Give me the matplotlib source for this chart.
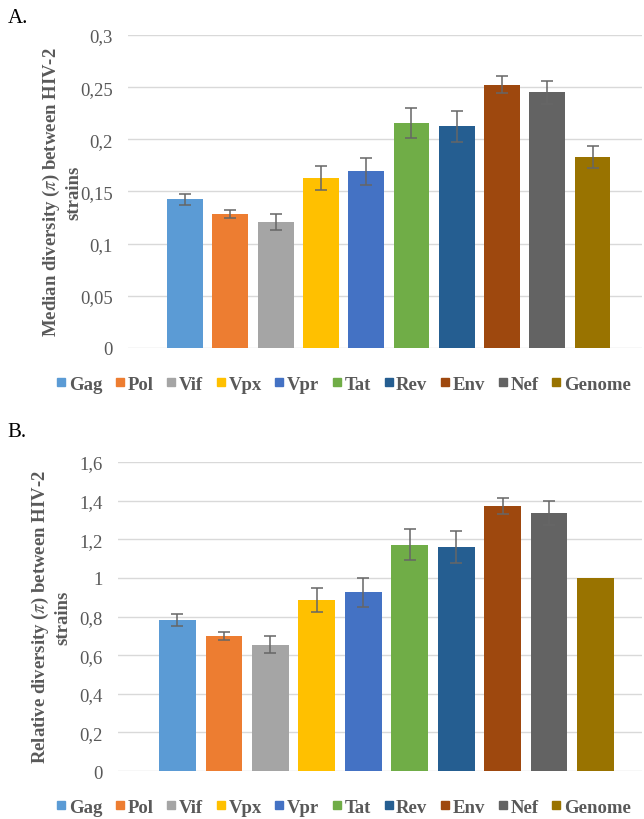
import numpy as np
import matplotlib
matplotlib.use('Agg')
import matplotlib.pyplot as plt
from matplotlib.lines import Line2D

genes=['Gag','Pol','Vif','Vpx','Vpr','Tat','Rev','Env','Nef','Genome']
colors=['#5B9BD5','#ED7D31','#A5A5A5','#FFC000','#4472C4','#70AD47','#255E91','#9E480E','#636363','#997300']

#A: median diversity
medA=[0.1425,0.1285,0.1210,0.1625,0.1695,0.2155,0.2125,0.2525,0.2450,0.1830]
errA=[0.0055,0.0040,0.0075,0.0115,0.0130,0.0145,0.0150,0.0078,0.0110,0.0105]
#B: relative diversity
relB=[0.782,0.700,0.654,0.884,0.925,1.172,1.160,1.373,1.338,1.0]
errB=[0.030,0.020,0.043,0.062,0.075,0.080,0.085,0.041,0.062,0.0]

plt.rcParams['font.family']=['Liberation Serif','DejaVu Serif']
plt.rcParams['mathtext.fontset']='stix'
GRAY='#595959'

def Panel(fig,rect,vals,errs,ymax,step,ticklabels,ylabel,xl,labx):
    ax=fig.add_axes(rect)
    x=np.arange(len(genes))
    ax.bar(x,vals,width=0.79,color=colors,zorder=2)
    e=np.array(errs)
    m=e>0
    ax.errorbar(x[m],np.array(vals)[m],yerr=e[m],fmt='none',ecolor='#666666',
                elinewidth=1.1,capsize=4,capthick=1.1,zorder=3)
    ax.set_ylim(0,ymax)
    ax.set_xlim(xl)
    ticks=np.arange(0,ymax+step/2,step)
    ax.set_yticks(ticks)
    ax.set_yticklabels(ticklabels,fontsize=13.5,color=GRAY)
    ax.set_xticks([])
    ax.tick_params(axis='y',length=0,pad=11)
    ax.grid(axis='y',color='#d9d9d9',linewidth=1,zorder=0)
    for s in ax.spines.values():
        s.set_visible(False)
    ax.set_ylabel(ylabel,fontsize=13.5,fontweight='bold',color=GRAY,linespacing=1.3)
    ax.yaxis.set_label_coords(labx,0.5)
    return ax

def Legend(fig,y):
    handles=[Line2D([],[],marker='s',linestyle='none',markersize=5.5,
                    markerfacecolor=c,markeredgecolor=c) for c in colors]
    fig.legend(handles,genes,loc='center',bbox_to_anchor=(0.533,y),ncol=10,frameon=False,
               handletextpad=0.1,columnspacing=0.65,handlelength=0.6,borderpad=0,
               prop={'family':'Liberation Serif','weight':'bold','size':13.5},labelcolor=GRAY)

def main():
    fig=plt.figure(figsize=(6.44,8.2),dpi=100)
    Panel(fig,[0.1988,0.5744,0.798,0.3817],medA,errA,0.3,0.05,
          ['0','0,05','0,1','0,15','0,2','0,25','0,3'],
          'Median diversity ($\\pi$) between HIV-2\nstrains',(-1.26,10.09),-0.088)
    Panel(fig,[0.1832,0.0585,0.8137,0.3768],relB,errB,1.6,0.2,
          ['0','0,2','0,4','0,6','0,8','1','1,2','1,4','1,6'],
          'Relative diversity ($\\pi$) between HIV-2\nstrains',(-1.28,10.0),-0.088)
    Legend(fig,0.5305)
    Legend(fig,0.0146)
    fig.text(0.012,0.978,'A.',fontsize=15,color='black',va='center')
    fig.text(0.012,0.472,'B.',fontsize=15,color='black',va='center')
    fig.savefig('out.png',dpi=100)

if __name__ == "__main__":
    main()
